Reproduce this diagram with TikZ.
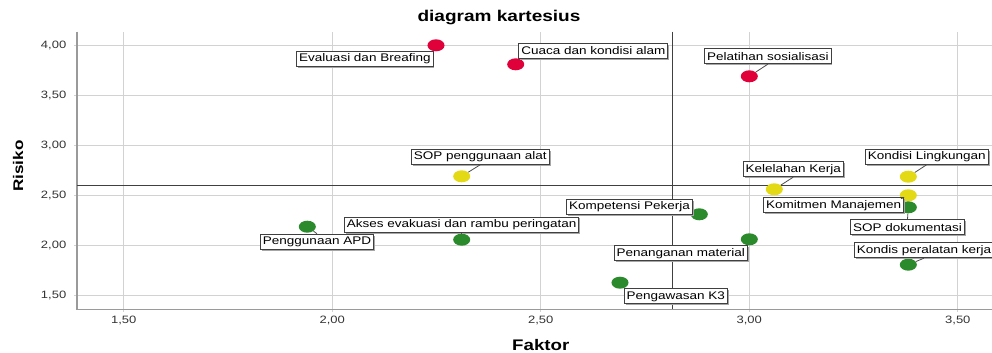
\documentclass[tikz,border=0pt]{standalone}
\usepackage{fontspec}
\setmainfont[FakeStretch=1.22]{Liberation Sans}
\usetikzlibrary{shapes.geometric,shadows}
\definecolor{ptred}{HTML}{E0003A}
\definecolor{ptyel}{HTML}{E3D914}
\definecolor{ptgrn}{HTML}{2B8A2B}
\definecolor{gridc}{HTML}{D2D2D2}
\definecolor{axisc}{HTML}{9A9A9A}
\tikzset{
  dot/.style={ellipse, inner sep=0pt, minimum width=12.8pt, minimum height=9pt, draw=none},
  lbl/.style={draw=black!75, line width=0.7pt, fill=white, inner xsep=1.8pt, inner ysep=0pt,
    minimum height=11.3pt, font=\fontsize{8.3}{9}\selectfont,
    drop shadow={shadow xshift=1.1pt, shadow yshift=-1.1pt, fill=black!35, opacity=1}},
  leader/.style={draw=black!70, line width=0.6pt},
  gridl/.style={draw=gridc, line width=0.75pt},
  refl/.style={draw=black!75, line width=0.75pt},
  axisl/.style={draw=axisc, line width=1.1pt},
  tickl/.style={font=\fontsize{8}{9}\selectfont, text=black!80},
  axtitle/.style={font=\bfseries\fontsize{11.5}{13}\selectfont}
}
\begin{document}
\begin{tikzpicture}[x=0.75pt, y=-0.75pt]
\useasboundingbox (0,0) rectangle (992,353);
% grid
\foreach \yy in {45.3,95.3,145.3,195.3,245.3,295.3}
  \draw[gridl] (74,\yy) -- (992,\yy);
\foreach \xx in {123.8,332.3,540.8,749.3,957.8}
  \draw[gridl] (\xx,31.7) -- (\xx,312);
% axes
\draw[axisl] (77,31.7) -- (77,309.3) -- (992,309.3);
% reference lines
\draw[refl] (77,185.3) -- (992,185.3);
\draw[refl] (672,31.7) -- (672,309.3);
% tick labels
\node[tickl, anchor=east] (ty1) at (71,45.3) {4,00};
\node[tickl, anchor=east] (ty2) at (71,95.3) {3,50};
\node[tickl, anchor=east] (ty3) at (71,145.3) {3,00};
\node[tickl, anchor=east] (ty4) at (71,195.3) {2,50};
\node[tickl, anchor=east] (ty5) at (71,245.3) {2,00};
\node[tickl, anchor=east] (ty6) at (71,295.3) {1,50};
\node[tickl] (tx1) at (123.8,320.7) {1,50};
\node[tickl] (tx2) at (332.3,320.7) {2,00};
\node[tickl] (tx3) at (540.8,320.7) {2,50};
\node[tickl] (tx4) at (749.3,320.7) {3,00};
\node[tickl] (tx5) at (957.8,320.7) {3,50};
% titles
\node[font=\bfseries\fontsize{11.7}{13}\selectfont] (title) at (499,18) {diagram kartesius};
\node[axtitle] (xt) at (540.8,345) {Faktor};
\node[font=\bfseries\fontsize{10.5}{12}\selectfont, rotate=90] (yt) at (18,166) {Risiko};
% points
\node[dot, fill=ptred] (p1) at (436,45.3) {};
\node[dot, fill=ptred] (p2) at (515.7,64.3) {};
\node[dot, fill=ptred] (p3) at (749.3,76.3) {};
\node[dot, fill=ptyel] (p4) at (461.7,176.3) {};
\node[dot, fill=ptyel] (p5) at (908.3,176.7) {};
\node[dot, fill=ptyel] (p6) at (774.3,189.3) {};
\node[dot, fill=ptyel] (p7) at (908.3,195.3) {};
\node[dot, fill=ptgrn] (p8) at (908.3,207.3) {};
\node[dot, fill=ptgrn] (p9) at (908.3,264.7) {};
\node[dot, fill=ptgrn] (p10) at (699.3,214.3) {};
\node[dot, fill=ptgrn] (p11) at (749.3,239.3) {};
\node[dot, fill=ptgrn] (p12) at (620,282.7) {};
\node[dot, fill=ptgrn] (p13) at (461.7,239.7) {};
\node[dot, fill=ptgrn] (p14) at (307.3,226.7) {};
% labels
\node[lbl] (l1) at (364.9,58.8) {Evaluasi dan Breafing};
\node[lbl] (l2) at (593.3,50.8) {Cuaca dan kondisi alam};
\node[lbl] (l3) at (767.8,56.2) {Pelatihan sosialisasi};
\node[lbl] (l4) at (480.3,156.7) {SOP penggunaan alat};
\node[lbl] (l5) at (926.7,156.7) {Kondisi Lingkungan};
\node[lbl] (l6) at (793.2,169.2) {Kelelahan Kerja};
\node[lbl] (l7) at (833.7,205.3) {Komitmen Manajemen};
\node[lbl] (l8) at (907.5,227.2) {SOP dokumentasi};
\node[lbl, anchor=east] (l9) at (994,250.2) {Kondis peralatan kerja};
\node[lbl] (l10) at (629.5,206.7) {Kompetensi Pekerja};
\node[lbl] (l11) at (680.8,253.3) {Penanganan material};
\node[lbl] (l12) at (675.8,296.3) {Pengawasan K3};
\node[lbl] (l13) at (461.7,224.5) {Akses evakuasi dan rambu peringatan};
\node[lbl] (l14) at (317,241.7) {Penggunaan APD};
% leaders
\draw[leader] (l3.south) -- (p3);
\draw[leader] (l4.south) -- (p4);
\draw[leader] (l5.south) -- (p5);
\draw[leader] (l6.south) -- (p6);
\draw[leader] (l7.north east) -- (p7);
\draw[leader] (l8.north) -- (p8);
\draw[leader] (l9.south) -- (p9);
\draw[leader] (l13.south) -- (p13);
\draw[leader] (l14.north) -- (p14);
\end{tikzpicture}
\end{document}
